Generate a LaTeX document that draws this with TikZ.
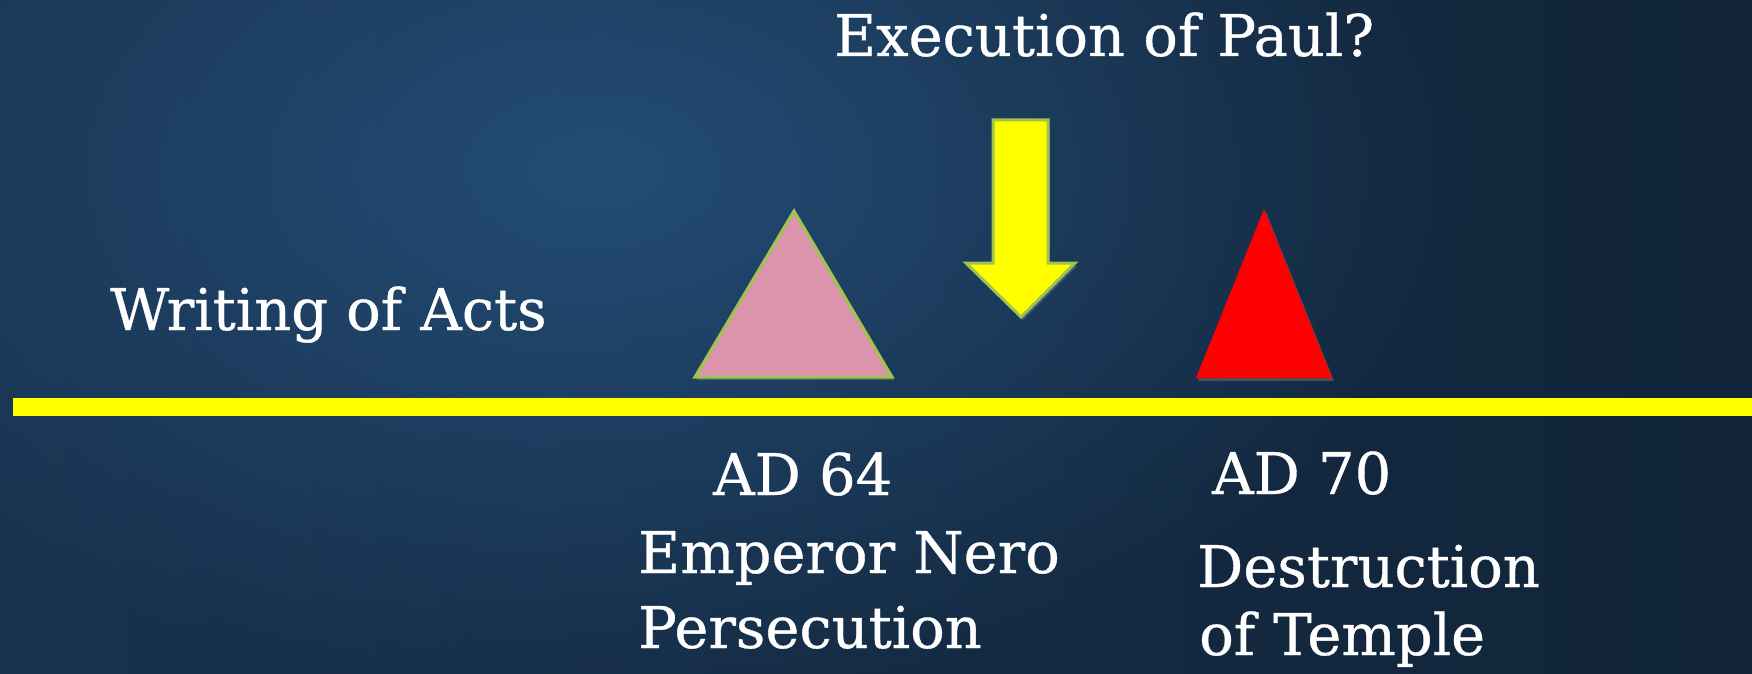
\documentclass[tikz,border=0pt]{standalone}
\usepackage{fontspec}
\setmainfont[FakeBold=0.6]{DejaVu Serif}
\usetikzlibrary{shadows,fadings}
\definecolor{bgL}{RGB}{24,50,78}
\definecolor{bgR}{RGB}{17,36,57}
\definecolor{bgHi}{RGB}{38,82,126}
\definecolor{olivec}{RGB}{160,195,80}
\definecolor{pinkfill}{RGB}{219,148,171}
\definecolor{tlyellow}{RGB}{255,255,0}
\definecolor{tlred}{RGB}{255,0,0}
\tikzfading[name=softspot, inner color=transparent!0, outer color=transparent!100]
\begin{document}
\begin{tikzpicture}[x=1pt,y=-1pt,
  lbl/.style={text=white, font=\fontsize{57.5}{66}\selectfont, inner sep=0pt, anchor=base west},
  shapeshadow/.style={drop shadow={opacity=0.45, shadow xshift=2pt, shadow yshift=-3pt}},
  outlined/.style={draw=olivec, line width=3pt, line join=miter}]
\useasboundingbox (0,0) rectangle (1752,674);
% background
\begin{scope}
\clip (0,0) rectangle (1752,674);
\shade[left color=bgL, right color=bgR] (0,0) rectangle (1752,674);
\fill[bgHi, opacity=0.85, path fading=softspot] (600,170) ellipse [x radius=880, y radius=540];
\end{scope}
% timeline
\fill[tlyellow] (13,398) rectangle (1752,416);
% pink triangle (AD 64)
\path[outlined, fill=pinkfill, shapeshadow] (794,211) -- (892,377) -- (695,377) -- cycle;
% yellow arrow
\path[outlined, fill=tlyellow, shapeshadow] (993,120) -- (1048,120) -- (1048,263) -- (1075,263) -- (1021,317) -- (966,263) -- (993,263) -- cycle;
% red triangle (AD 70)
\path[fill=tlred, shapeshadow] (1264,209) -- (1332,378) -- (1196,378) -- cycle;
% labels
\node[lbl] (exec) at (834,56) {Execution of Paul?};
\node[lbl] (writing) at (110,330) {Writing of Acts};
\node[lbl] (ad64) at (713,495) {AD 64};
\node[lbl] (nero) at (638,573) {Emperor Nero};
\node[lbl] (pers) at (638,648) {Persecution};
\node[lbl] (ad70) at (1212,494) {AD 70};
\node[lbl] (destr) at (1197,587) {Destruction};
\node[lbl] (temple) at (1199,655) {of Temple};
\end{tikzpicture}
\end{document}
